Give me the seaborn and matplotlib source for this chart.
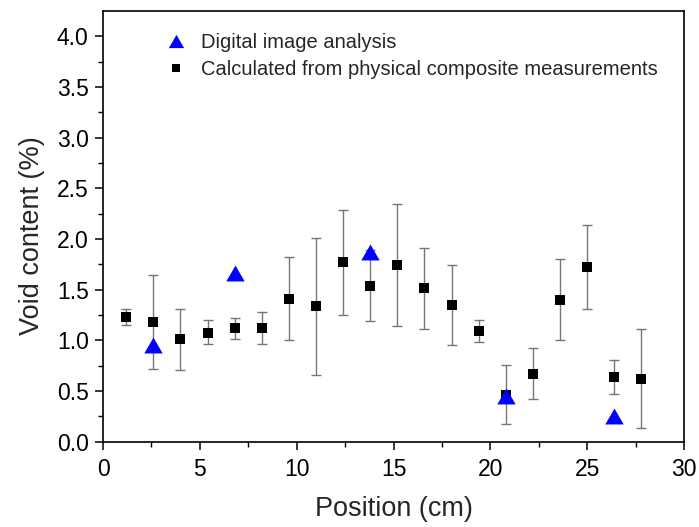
import numpy as np
import pandas as pd
import matplotlib
matplotlib.use("Agg")
import matplotlib.pyplot as plt
import seaborn as sns
from matplotlib.lines import Line2D

# --- data ---
pos_calc = [1.2, 2.6, 4.0, 5.4, 6.8, 8.2, 9.6, 11.0, 12.4, 13.8,
            15.2, 16.6, 18.0, 19.4, 20.8, 22.2, 23.6, 25.0, 26.4, 27.8]
void_calc = [1.23, 1.18, 1.01, 1.07, 1.12, 1.12, 1.41, 1.34, 1.77, 1.54,
             1.74, 1.52, 1.35, 1.09, 0.46, 0.67, 1.40, 1.72, 0.64, 0.62]
err_upper = [1.31, 1.645, 1.31, 1.195, 1.215, 1.28, 1.82, 2.01, 2.29, 1.89,
             2.345, 1.91, 1.745, 1.195, 0.755, 0.92, 1.80, 2.135, 0.80, 1.11]
err_lower = [1.15, 0.72, 0.71, 0.96, 1.01, 0.965, 1.00, 0.66, 1.245, 1.19,
             1.14, 1.115, 0.95, 0.985, 0.17, 0.42, 1.00, 1.31, 0.47, 0.135]

pos_img = [2.6, 6.8, 13.8, 20.8, 26.4]
void_img = [0.95, 1.66, 1.87, 0.45, 0.25]

label_img = "Digital image analysis"
label_calc = "Calculated from physical composite measurements"

df_calc = pd.DataFrame({"pos": pos_calc, "void": void_calc})
df_img = pd.DataFrame({"pos": pos_img, "void": void_img})

sns.set_theme(style="ticks")
plt.rcParams['font.family'] = ['Liberation Sans', 'DejaVu Sans']

fig = plt.figure(figsize=(6.99, 5.27), dpi=100)
ax = fig.add_axes([0.1474, 0.1622, 0.8311, 0.8168])

yerr = np.array([np.array(void_calc) - np.array(err_lower),
                 np.array(err_upper) - np.array(void_calc)])
ax.errorbar(pos_calc, void_calc, yerr=yerr, fmt='none', ecolor='#767676',
            elinewidth=1.0, capsize=3.6, capthick=1.0, zorder=2)

tri = [(0, 0.433), (-0.5, -0.433), (0.5, -0.433)]

sns.scatterplot(data=df_calc, x="pos", y="void", marker='s', s=42,
                color='black', edgecolor='black', linewidth=0, ax=ax,
                zorder=3, legend=False)
sns.scatterplot(data=df_img, x="pos", y="void", marker=tri, s=175,
                color='#0000ff', edgecolor='#0000ff', linewidth=0, ax=ax,
                zorder=4, legend=False)

ax.set_xlim(0, 30)
ax.set_ylim(0, 4.25)
ax.set_xticks(np.arange(0, 31, 5))
ax.set_xticks(np.arange(0, 30.1, 2.5), minor=True)
ax.set_yticks(np.arange(0, 4.01, 0.5))
ax.set_yticks(np.arange(0, 4.01, 0.25), minor=True)
ax.set_yticklabels([f"{v:.1f}" for v in np.arange(0, 4.01, 0.5)])

for s in ax.spines.values():
    s.set_visible(True)
    s.set_color('black')
    s.set_linewidth(1.2)
ax.tick_params(which='major', direction='out', length=5.8, width=1.1,
               labelsize=16.5, colors='black')
ax.tick_params(axis='x', which='major', pad=6)
ax.tick_params(axis='y', which='major', pad=4.5)
ax.tick_params(which='minor', direction='out', length=3.3, width=1.0,
               colors='black')

ax.set_xlabel("Position (cm)", fontsize=19.5, labelpad=11)
ax.set_ylabel("Void content (%)", fontsize=19.5)
ax.yaxis.set_label_coords(-0.1, 0.479)

handles = [
    Line2D([], [], linestyle='none', marker=tri, markersize=11,
           color='#0000ff', markeredgewidth=0),
    Line2D([], [], linestyle='none', marker='s', markersize=6,
           color='black', markeredgewidth=0),
]
ax.legend(handles, [label_img, label_calc], loc='upper left',
          bbox_to_anchor=(0.07, 0.99), frameon=False, fontsize=14.5,
          handletextpad=0.55, labelspacing=0.38, handlelength=1.4)

fig.savefig("out.png", dpi=100)
